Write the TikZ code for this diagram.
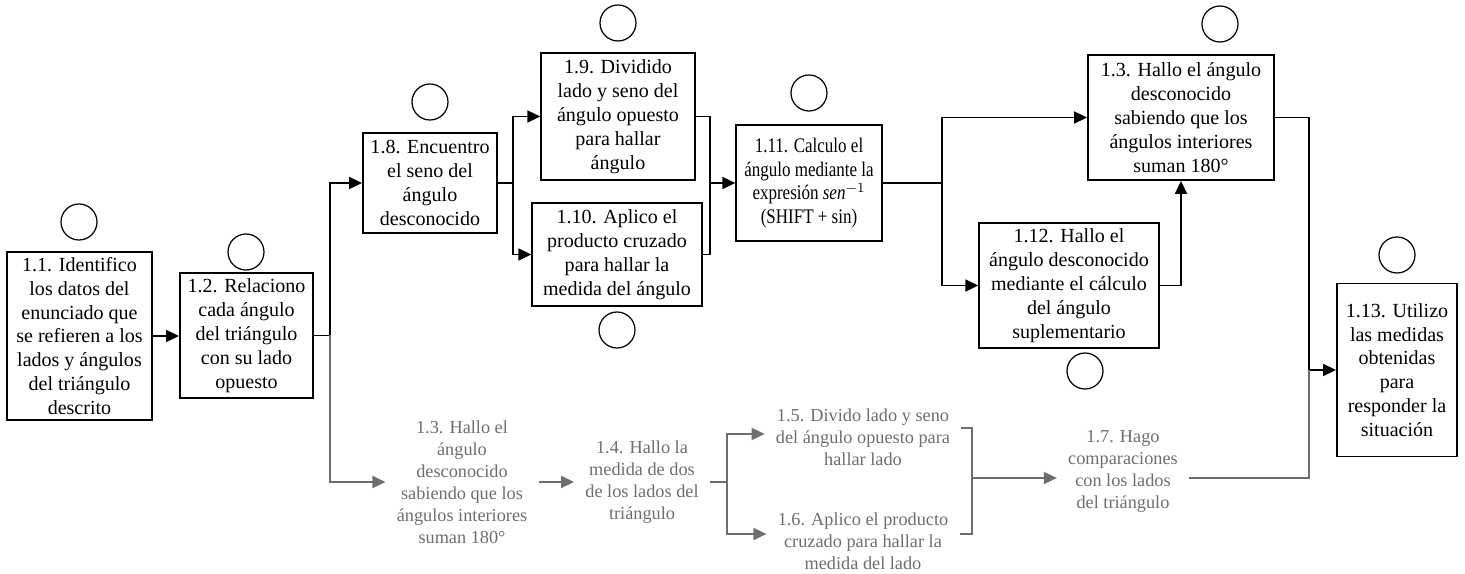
\documentclass[tikz,border=0pt]{standalone}
\usepackage{fontspec}
\setmainfont{Liberation Serif}
\newfontfamily\estrecha[FakeStretch=0.82]{Liberation Serif}
\usetikzlibrary{arrows.meta, calc}
\definecolor{grisclaro}{HTML}{6E6E6E}
\tikzset{
  paso/.style={
    rectangle, draw=black, line width=1.1pt, inner sep=0pt,
    align=center, font=\fontsize{11.4}{13.6}\selectfont
  },
  pasofino/.style={
    paso, line width=0.75pt
  },
  pasogris/.style={
    rectangle, inner sep=0.22cm, align=center, text=grisclaro,
    font=\fontsize{10.4}{12.5}\selectfont
  },
  marca/.style={
    circle, draw=black, line width=0.7pt, minimum size=0.72cm, inner sep=0pt
  },
  flecha/.style={
    -{Triangle[length=0.26cm,width=0.24cm]}, line width=1pt, color=black
  },
  linea/.style={
    line width=1pt, color=black
  },
  flechagris/.style={
    -{Triangle[length=0.26cm,width=0.24cm]}, line width=1pt, color=grisclaro
  },
  lineagris/.style={
    line width=1pt, color=grisclaro
  }
}

\begin{document}
\begin{tikzpicture}[x=0.02cm, y=-0.02cm]
  \useasboundingbox (0,0) rectangle (1465,574);

  % Pasos de la ruta principal
  \node[paso, minimum width=2.9cm, minimum height=3.36cm] (b11) at (79.5,336)
    {1.1. Identifico\\los datos del\\enunciado que\\se refieren a los\\lados y ángulos\\del triángulo\\descrito};
  \node[paso, minimum width=2.66cm, minimum height=2.5cm] (b12) at (246.5,335.5)
    {1.2. Relaciono\\cada ángulo\\del triángulo\\con su lado\\opuesto};
  \node[paso, minimum width=2.68cm, minimum height=2cm] (b18) at (430,183)
    {1.8. Encuentro\\el seno del\\ángulo\\desconocido};
  \node[pasofino, minimum width=3.08cm, minimum height=2.54cm] (b19) at (618,116.5)
    {1.9. Dividido\\lado y seno del\\ángulo opuesto\\para hallar\\ángulo};
  \node[pasofino, minimum width=3.4cm, minimum height=2.06cm] (b110) at (617,254.5)
    {1.10. Aplico el\\producto cruzado\\para hallar la\\medida del ángulo};
  \node[pasofino, minimum width=2.92cm, minimum height=2.32cm,
        font=\estrecha\fontsize{11.8}{13.4}\selectfont] (b111) at (809,183)
    {1.11. Calculo el\\ángulo mediante la\\expresión \textit{sen}$^{-1}$\\(SHIFT + sin)};
  \node[paso, minimum width=3.72cm, minimum height=2.5cm] (b13) at (1181,117.5)
    {1.3. Hallo el ángulo\\desconocido\\sabiendo que los\\ángulos interiores\\suman 180°};
  \node[pasofino, minimum width=3.6cm, minimum height=2.5cm] (b112) at (1069,285.5)
    {1.12. Hallo el\\ángulo desconocido\\mediante el cálculo\\del ángulo\\suplementario};
  \node[paso, minimum width=2.4cm, minimum height=3.46cm] (b113) at (1397,370)
    {1.13. Utilizo\\las medidas\\obtenidas\\para\\responder la\\situación};

  % Circulos de marca
  \node[marca] (c11) at (79,222) {};
  \node[marca] (c12) at (246,252) {};
  \node[marca] (c18) at (430,102) {};
  \node[marca] (c19) at (618,23) {};
  \node[marca] (c110) at (617,330) {};
  \node[marca] (c111) at (809,93) {};
  \node[marca] (c13) at (1220,24) {};
  \node[marca] (c112) at (1085,371) {};
  \node[marca] (c113) at (1397,255) {};

  % Pasos de la ruta alterna (gris)
  \node[pasogris] (g13) at (462,482)
    {1.3. Hallo el\\ángulo\\desconocido\\sabiendo que los\\ángulos interiores\\suman 180°};
  \node[pasogris] (g14) at (642,482)
    {1.4. Hallo la\\medida de dos\\de los lados del\\triángulo};
  \node[pasogris] (g15) at (863,437)
    {1.5. Divido lado y seno\\del ángulo opuesto para\\hallar lado};
  \node[pasogris] (g16) at (863,541)
    {1.6. Aplico el producto\\cruzado para hallar la\\medida del lado};
  \node[pasogris] (g17) at (1123,471)
    {1.7. Hago\\comparaciones\\con los lados\\del triángulo};

  % Conectores ruta principal
  \draw[flecha] (b11.east) -- (b12.west |- b11.east);
  \coordinate (j1) at (330,335.5);
  \draw[linea] (b12.east) -- (j1);
  \draw[flecha] (j1) |- (b18.west);
  \coordinate (j2) at (513,183);
  \draw[linea] (b18.east) -- (j2);
  \draw[flecha] (j2) |- (b19.west);
  \draw[flecha] (j2) |- (b110.west);
  \coordinate (j3) at (710,183);
  \draw[linea] (b19.east) -| (j3) |- (b110.east);
  \draw[flecha] (j3) -- (b111.west);
  \coordinate (j4) at (942,183);
  \draw[linea] (b111.east) -- (j4);
  \draw[flecha] (j4) |- (b13.west);
  \draw[flecha] (j4) |- (b112.west);
  \draw[flecha] (b112.east) -| (b13.south);
  \coordinate (j5) at (1309,370);
  \draw[flecha] (b13.east) -| (j5) -- (b113.west);

  % Conectores ruta alterna
  \draw[flechagris] (j1) |- (g13.west);
  \draw[flechagris] (g13.east) -- (g14.west);
  \coordinate (j6) at (727,482);
  \draw[lineagris] (g14.east) -- (j6);
  \draw[flechagris] (j6) |- ([yshift=0.06cm]g15.west);
  \draw[flechagris] (j6) |- ([yshift=0.14cm]g16.west);
  \coordinate (j7) at (972,478);
  \draw[lineagris] ([yshift=0.18cm]g15.east) -| (j7) |- ([yshift=0.14cm]g16.east);
  \draw[flechagris] (j7) -- (j7 -| g17.west);
  \draw[lineagris] (g17.east |- j7) -| (j5);
\end{tikzpicture}
\end{document}
